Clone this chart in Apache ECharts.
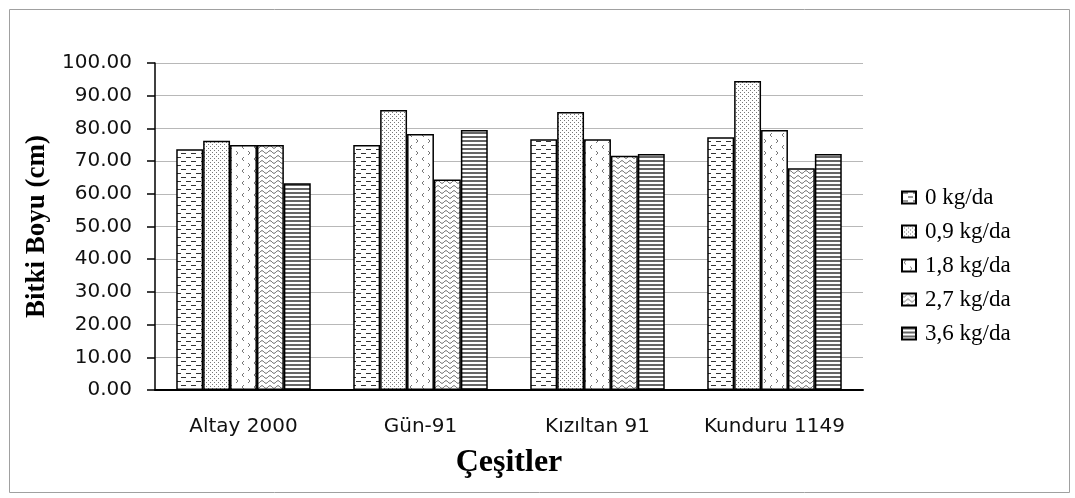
<!DOCTYPE html>
<html><head><meta charset="utf-8">
<script src="https://cdn.jsdelivr.net/npm/echarts@6/dist/echarts.min.js"></script>
<style>html,body{margin:0;padding:0;background:#fff}#c{width:1075px;height:498px}</style>
</head><body><div id="c"></div>
<script>
const categories = ['Altay 2000', 'Gün-91', 'Kızıltan 91', 'Kunduru 1149'];
const seriesNames = ['0 kg/da', '0,9 kg/da', '1,8 kg/da', '2,7 kg/da', '3,6 kg/da'];
const s0 = [73.6, 74.9, 76.7, 77.3];
const s09 = [76.2, 85.6, 85.0, 94.5];
const s18 = [74.9, 78.3, 76.7, 79.5];
const s27 = [74.9, 64.4, 71.6, 67.8];
const s36 = [63.2, 79.5, 72.2, 72.2];
const yTicks = [0, 100, 10];

function mk(w, h, draw) {
  const c = document.createElement('canvas');
  c.width = w; c.height = h;
  const g = c.getContext('2d');
  g.fillStyle = '#fff'; g.fillRect(0, 0, w, h);
  draw(g);
  return { image: c, repeat: 'repeat' };
}
const patDash = mk(10, 8, g => {
  g.fillStyle = '#333';
  g.fillRect(1, 1, 5, 1);
  g.fillRect(6, 5, 4, 1); g.fillRect(0, 5, 1, 1);
});
const patDots = mk(4, 4, g => {
  g.fillStyle = '#777';
  g.fillRect(0, 0, 1, 1); g.fillRect(2, 2, 1, 1);
});
const patChev = mk(12, 12, g => {
  g.strokeStyle = '#777'; g.lineWidth = 1;
  g.beginPath(); g.moveTo(4, 1); g.lineTo(2, 3); g.lineTo(4, 5); g.stroke();
  g.beginPath(); g.moveTo(8, 7); g.lineTo(10, 9); g.lineTo(8, 11); g.stroke();
});
const patWave = mk(8, 5, g => {
  g.strokeStyle = '#555'; g.lineWidth = 1;
  g.beginPath();
  for (let x = 0; x <= 8; x += 0.5) {
    const y = 2 + 1.3 * Math.sin(x / 8 * 2 * Math.PI);
    if (x === 0) g.moveTo(x, y); else g.lineTo(x, y);
  }
  g.stroke();
});
const patLines = mk(4, 4, g => {
  g.fillStyle = '#666';
  g.fillRect(0, 0, 4, 2);
});
const patterns = [patDash, patDots, patChev, patWave, patLines];
const values = [s0, s09, s18, s27, s36];

const chart = echarts.init(document.getElementById('c'));
chart.setOption({
  backgroundColor: '#fff',
  animation: false,
  graphic: [{
    type: 'rect', left: 7, top: 7,
    shape: { width: 1060, height: 483 },
    style: { fill: 'none', stroke: '#a0a0a0', lineWidth: 1 }
  }],
  grid: { left: 155, right: 212, top: 63, bottom: 108 },
  legend: {
    orient: 'vertical', left: 896, top: 181, itemGap: 11,
    itemWidth: 14, itemHeight: 12,
    textStyle: { fontFamily: 'Liberation Serif', fontSize: 23, color: '#000', padding: [0, 0, 0, 4] },
    data: seriesNames.map(n => ({ name: n, icon: 'rect' }))
  },
  xAxis: {
    type: 'category', data: categories,
    name: 'Çeşitler', nameLocation: 'middle', nameGap: 57,
    nameTextStyle: { fontFamily: 'Liberation Serif', fontWeight: 'bold', fontSize: 32, color: '#000' },
    axisLine: { lineStyle: { color: '#000', width: 2 } },
    axisTick: { interval: 0, length: 9, lineStyle: { color: '#000', width: 1.5 } },
    axisLabel: { interval: 0, fontFamily: 'DejaVu Sans', fontSize: 20, color: '#111', margin: 27 }
  },
  yAxis: {
    type: 'value', min: yTicks[0], max: yTicks[1], interval: yTicks[2],
    name: 'Bitki Boyu (cm)', nameLocation: 'middle', nameGap: 104,
    nameTextStyle: { fontFamily: 'Liberation Serif', fontWeight: 'bold', fontSize: 27, color: '#000' },
    axisLine: { show: true, lineStyle: { color: '#000', width: 1.5 } },
    axisTick: { show: true, length: 8, lineStyle: { color: '#000', width: 1.5 } },
    axisLabel: { fontFamily: 'DejaVu Sans', fontSize: 20, color: '#111', margin: 23, formatter: v => v.toFixed(2) },
    splitLine: { lineStyle: { color: '#b8b8b8', width: 1 } }
  },
  series: seriesNames.map((n, i) => ({
    name: n, type: 'bar', data: values[i],
    barGap: '0%', barCategoryGap: '24%',
    itemStyle: { color: patterns[i], borderColor: '#000', borderWidth: 1.5 }
  }))
});
</script></body></html>
